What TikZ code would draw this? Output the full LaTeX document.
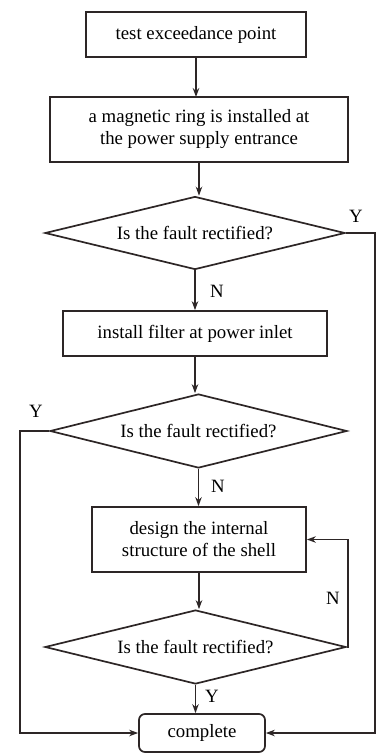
\documentclass[tikz,border=0pt]{standalone}
\usepackage{fontspec}
\setmainfont{Liberation Serif}
\usetikzlibrary{shapes.geometric,arrows.meta}
\definecolor{ln}{RGB}{45,38,38}
\tikzset{
  box/.style={draw=ln, line width=1.7pt, align=center, inner sep=0pt, font=\fontsize{18.8}{22}\selectfont},
  dec/.style={draw=ln, line width=1.7pt, shape=diamond, aspect=4, inner sep=0pt, font=\fontsize{18.8}{22}\selectfont},
  conn/.style={draw=ln, line width=1.5pt, -{Stealth[length=9pt,width=6.5pt]}},
  lbl/.style={font=\fontsize{18.8}{22}\selectfont, inner sep=0pt}
}
\begin{document}
\begin{tikzpicture}[x=1pt,y=-1pt]
\useasboundingbox (0,0) rectangle (378,753);
\node[box, minimum width=220pt, minimum height=45pt] (b1) at (196,34.5) {test exceedance point};
\node[box, minimum width=298pt, minimum height=65pt] (b2) at (199,129.5) {a magnetic ring is installed at\\the power supply entrance};
\node[dec, minimum width=300pt, minimum height=73pt] (d1) at (195,233) {Is the fault rectified?};
\node[box, minimum width=264pt, minimum height=45pt] (b3) at (195,333.5) {install filter at power inlet};
\node[dec, minimum width=297pt, minimum height=74pt] (d2) at (198.5,431) {Is the fault rectified?};
\node[box, minimum width=214pt, minimum height=65pt] (b4) at (199,539.5) {design the internal\\structure of the shell};
\node[dec, minimum width=301pt, minimum height=74pt] (d3) at (195.5,647) {Is the fault rectified?};
\node[box, rounded corners=6pt, minimum width=126pt, minimum height=38pt] (c) at (202,733) {complete};

\coordinate (r1) at (375,233);
\coordinate (l1) at (20,431);

\draw[conn] (196,57) -- (196,97);
\draw[conn] (b2.south) -- (b2.south |- d1.north);
\draw[conn] (d1.south) -- (d1.south |- b3.north);
\draw[conn] (b3.south) -- (b3.south |- d2.north);
\draw[conn] (d2.south) -- (d2.south |- b4.north);
\draw[conn] (b4.south) -- (b4.south |- d3.north);
\draw[conn] (d3.south) -- (d3.south |- c.north);
\draw[conn] (d1.east) -- (r1) |- (c.east);
\draw[conn] (d2.west) -- (l1) |- (c.west);
\draw[conn] (d3.east) -- ++(1,0) |- (b4.east);

\node[lbl] (y1) at (356,216) {Y};
\node[lbl] (n1) at (217,291) {N};
\node[lbl] (y2) at (36,411) {Y};
\node[lbl] (n2) at (218,486) {N};
\node[lbl] (n3) at (333,598) {N};
\node[lbl] (y3) at (212,696) {Y};
\end{tikzpicture}
\end{document}
